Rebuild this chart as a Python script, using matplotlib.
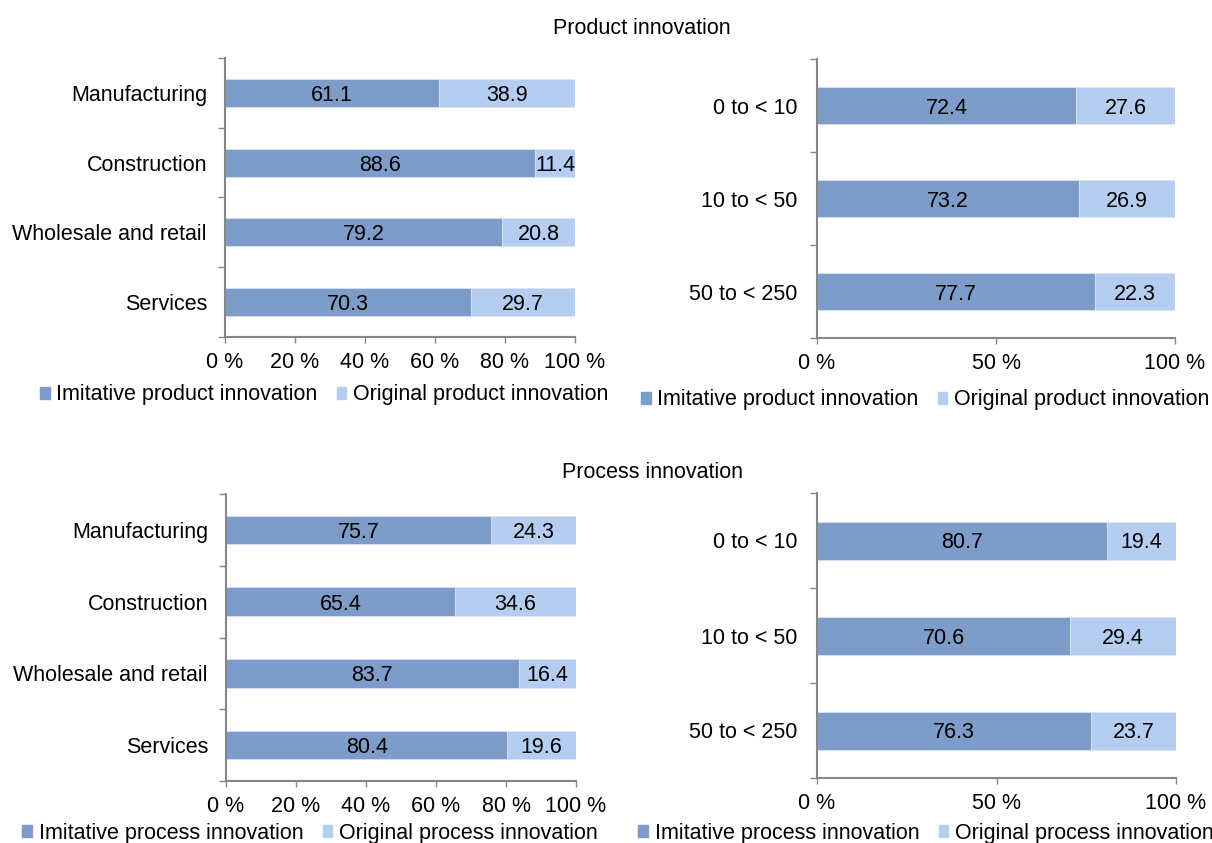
import matplotlib
matplotlib.use("Agg")
import matplotlib.pyplot as plt
from matplotlib.patches import Patch
import numpy as np

plt.rcParams['font.family'] = ['Liberation Sans', 'DejaVu Sans']

# data
sectors = ['Manufacturing', 'Construction', 'Wholesale and retail', 'Services']
sizes = ['0 to < 10', '10 to < 50', '50 to < 250']

prod_sector_imit = [61.1, 88.6, 79.2, 70.3]
prod_sector_orig = [38.9, 11.4, 20.8, 29.7]
prod_size_imit = [72.4, 73.2, 77.7]
prod_size_orig = [27.6, 26.9, 22.3]

proc_sector_imit = [75.7, 65.4, 83.7, 80.4]
proc_sector_orig = [24.3, 34.6, 16.4, 19.6]
proc_size_imit = [80.7, 70.6, 76.3]
proc_size_orig = [19.4, 29.4, 23.7]

sector_ticks = [0, 20, 40, 60, 80, 100]
size_ticks = [0, 50, 100]

DARK = '#7D9CC9'
LIGHT = '#B4CDF1'
GREY = '#868686'
FS = 15.5

W, H = 1212, 843
fig = plt.figure(figsize=(W / 100, H / 100), dpi=100)


def px_axes(left, right, top, bottom):
    return fig.add_axes([left / W, 1 - bottom / H, (right - left) / W, (bottom - top) / H])


def draw(ax, cats, imit, orig, ticks, label_pad, names, leg_x, leg_y):
    y = np.arange(len(cats))
    ax.barh(y, imit, height=0.4, color=DARK, edgecolor='#DCE6F4', linewidth=0.5)
    ax.barh(y, orig, left=imit, height=0.4, color=LIGHT, edgecolor='#DCE6F4', linewidth=0.5)
    for yi, a, b in zip(y, imit, orig):
        ax.text(a / 2, yi, f'{a:.1f}', ha='center', va='center_baseline', fontsize=FS)
        ax.text(a + b / 2, yi, f'{b:.1f}', ha='center', va='center_baseline', fontsize=FS)
    ax.set_xlim(0, 100)
    ax.set_ylim(len(cats) - 0.5, -0.5)
    ax.set_yticks(y)
    ax.set_yticklabels(cats, fontsize=FS)
    ax.set_yticks(np.arange(len(cats) + 1) - 0.5, minor=True)
    ax.tick_params(axis='y', which='major', length=0, pad=label_pad)
    ax.tick_params(axis='y', which='minor', length=5, color=GREY, width=1)
    ax.set_xticks(ticks)
    ax.set_xticklabels([f'{t} %' for t in ticks], fontsize=FS)
    ax.tick_params(axis='x', length=4, color=GREY, width=1, pad=7)
    for s in ['top', 'right']:
        ax.spines[s].set_visible(False)
    for s in ['left', 'bottom']:
        ax.spines[s].set_color(GREY)
        ax.spines[s].set_linewidth(1.5)
    handles = [Patch(color=DARK), Patch(color=LIGHT)]
    fig.legend(handles, names, loc='center', bbox_to_anchor=(leg_x / W, 1 - leg_y / H),
               ncol=2, frameon=False, fontsize=FS, handlelength=0.45, handleheight=0.45,
               handletextpad=0.3, columnspacing=0.9, borderpad=0)


ax1 = px_axes(225, 575, 58, 337)
draw(ax1, sectors, prod_sector_imit, prod_sector_orig, sector_ticks, 13,
     ['Imitative product innovation', 'Original product innovation'], 324, 395)

ax2 = px_axes(817, 1175, 59, 338)
draw(ax2, sizes, prod_size_imit, prod_size_orig, size_ticks, 14,
     ['Imitative product innovation', 'Original product innovation'], 925, 400)

ax3 = px_axes(226, 576, 494, 781)
draw(ax3, sectors, proc_sector_imit, proc_sector_orig, sector_ticks, 13,
     ['Imitative process innovation', 'Original process innovation'], 310, 833)

ax4 = px_axes(817, 1176, 493, 778)
draw(ax4, sizes, proc_size_imit, proc_size_orig, size_ticks, 14,
     ['Imitative process innovation', 'Original process innovation'], 926, 833)

fig.text(642 / W, 1 - 28 / H, 'Product innovation', ha='center', va='center', fontsize=FS)
fig.text(652 / W, 1 - 472 / H, 'Process innovation', ha='center', va='center', fontsize=FS)

fig.savefig('out.png', dpi=100)
